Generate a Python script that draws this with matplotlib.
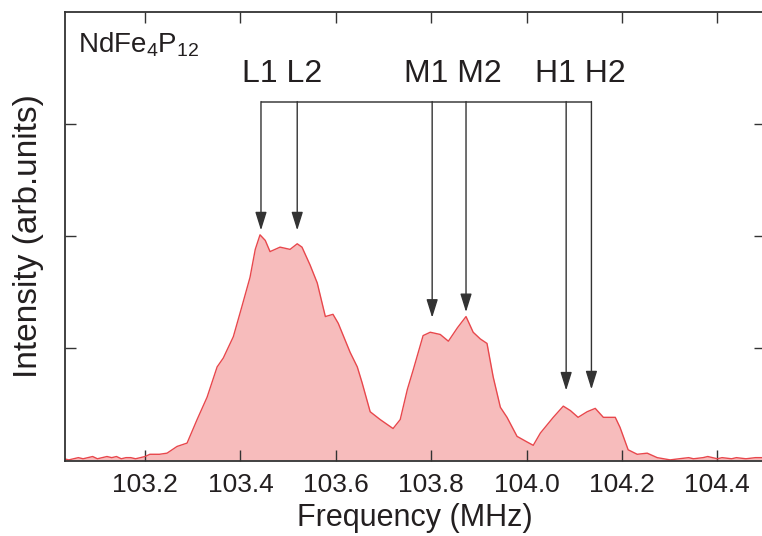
import matplotlib
matplotlib.use("Agg")
import matplotlib.pyplot as plt

plt.rcParams['font.family'] = ['Liberation Sans', 'DejaVu Sans']
plt.rcParams['mathtext.fontset'] = 'custom'
plt.rcParams['mathtext.rm'] = 'Liberation Sans'
plt.rcParams['mathtext.it'] = 'Liberation Sans'

# ---- data ----
freq = [103.03, 103.04, 103.05, 103.06, 103.07, 103.08, 103.09, 103.10, 103.11,
        103.12, 103.13, 103.14, 103.15, 103.16, 103.17, 103.18, 103.19, 103.20,
        103.21, 103.23, 103.246, 103.267, 103.288, 103.309, 103.330, 103.351,
        103.364, 103.385, 103.403, 103.420, 103.431, 103.441, 103.452, 103.462,
        103.483, 103.504, 103.519, 103.529, 103.546, 103.561, 103.578, 103.594,
        103.605, 103.630, 103.645, 103.655, 103.672, 103.693, 103.720, 103.735,
        103.750, 103.762, 103.783, 103.798, 103.819, 103.836, 103.855, 103.873,
        103.888, 103.903, 103.917, 103.930, 103.945, 103.959, 103.980, 104.001,
        104.014, 104.029, 104.056, 104.077, 104.092, 104.108, 104.127, 104.144,
        104.161, 104.186, 104.196, 104.213, 104.232, 104.253, 104.274, 104.301,
        104.32, 104.34, 104.35, 104.37, 104.38, 104.40, 104.41, 104.43, 104.44,
        104.46, 104.48, 104.50]
intensity = [0.01, 0.00, 0.01, 0.02, 0.01, 0.02, 0.03, 0.01, 0.02,
             0.03, 0.02, 0.03, 0.01, 0.02, 0.02, 0.01, 0.02, 0.03,
             0.05, 0.05, 0.06, 0.12, 0.15, 0.36, 0.56, 0.83,
             0.91, 1.10, 1.37, 1.63, 1.88, 2.01, 1.96, 1.86,
             1.90, 1.88, 1.93, 1.90, 1.74, 1.58, 1.28, 1.30,
             1.22, 0.96, 0.83, 0.69, 0.43, 0.36, 0.28, 0.36,
             0.63, 0.80, 1.11, 1.14, 1.12, 1.06, 1.18, 1.28,
             1.14, 1.08, 1.04, 0.74, 0.47, 0.38, 0.21, 0.16,
             0.13, 0.24, 0.38, 0.48, 0.44, 0.38, 0.43, 0.46,
             0.38, 0.38, 0.29, 0.09, 0.05, 0.06, 0.02, 0.00,
             0.01, 0.02, 0.01, 0.02, 0.03, 0.01, 0.02, 0.01, 0.02,
             0.01, 0.02, 0.02]

peak_labels = ["L1", "L2", "M1", "M2", "H1", "H2"]
peak_freq = [103.443, 103.519, 103.802, 103.873, 104.083, 104.136]
peak_tip = [2.05, 2.05, 1.27, 1.32, 0.62, 0.63]
bar_level = 3.20
group_labels = ["L1 L2", "M1 M2", "H1 H2"]
group_x = [103.487, 103.846, 104.112]
group_y = 3.45

xticks = [103.2, 103.4, 103.6, 103.8, 104.0, 104.2, 104.4]
yticks = [1, 2, 3]

# ---- figure ----
W, H = 762, 536
fig = plt.figure(figsize=(W / 100, H / 100), dpi=100)
ax_left, ax_right = 65, 765
ax_top, ax_bot = 12, 461
ax = fig.add_axes([ax_left / W, (H - ax_bot) / H, (ax_right - ax_left) / W, (ax_bot - ax_top) / H])

txt = '#231f20'
ax.fill_between(freq, intensity, 0, color='#f7bcbc', lw=0)
ax.plot(freq, intensity, color='#e8474c', lw=1.0)

ax.set_xlim(103.032, 104.5)
ax.set_ylim(-0.01, 4.0)
ax.set_xticks(xticks)
ax.set_xticklabels([f"{v:.1f}" for v in xticks])
ax.set_yticks(yticks)
ax.set_yticklabels([])
ax.tick_params(direction='in', length=8, width=1.0, color='#333333',
               top=True, right=True, labelsize=19, pad=9, labelcolor=txt)
for s in ax.spines.values():
    s.set_color('#333333')
    s.set_linewidth(1.3)

ax.set_xlabel("Frequency (MHz)", fontsize=22, color=txt, labelpad=4)
ax.set_ylabel("Intensity (arb.units)", fontsize=24, color=txt, labelpad=6)

ax.text(0.019, 0.91, r'NdFe$_\mathregular{4}$P$_\mathregular{12}$', transform=ax.transAxes,
        fontsize=20, color=txt, va='baseline', ha='left')

ax.plot([peak_freq[0], peak_freq[-1]], [bar_level, bar_level], color='#666666', lw=1.4,
        solid_capstyle='butt')
for xf, tip in zip(peak_freq, peak_tip):
    ax.annotate('', xy=(xf, tip), xytext=(xf, bar_level),
                arrowprops=dict(arrowstyle='-|>,head_length=0.8,head_width=0.25',
                                color='#333333', lw=1.0, shrinkA=0, shrinkB=0,
                                mutation_scale=14))
for lab, gx in zip(group_labels, group_x):
    ax.text(gx, group_y, lab, fontsize=23, color=txt, ha='center', va='center')

fig.savefig("out.png", dpi=100)
